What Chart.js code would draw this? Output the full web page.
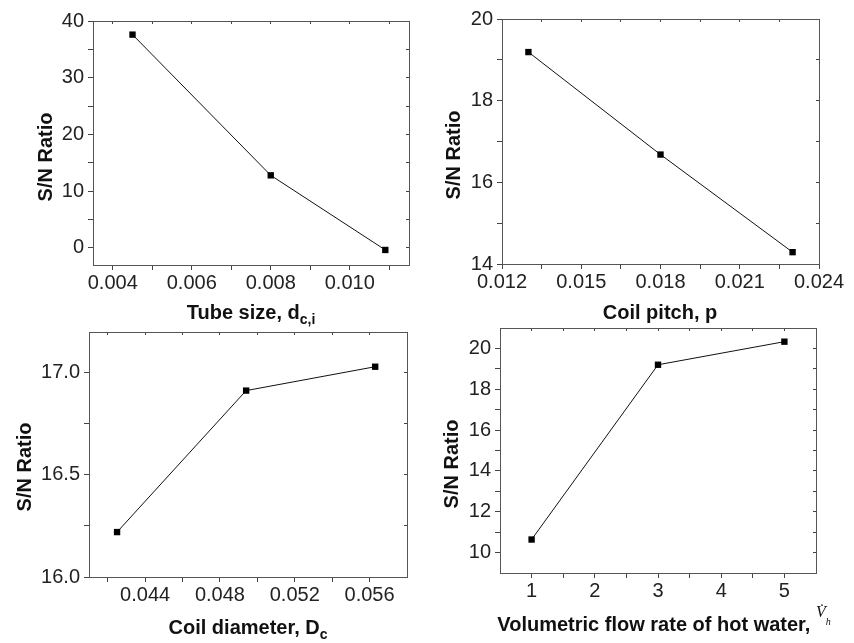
<!DOCTYPE html>
<html>
<head>
<meta charset="utf-8">
<script src="https://cdn.jsdelivr.net/npm/chart.js@4.4.1/dist/chart.umd.min.js"></script>
<style>
  body { margin: 0; background: #fff; }
  #wrap { position: relative; width: 854px; height: 643px; }
  canvas { position: absolute; left: 0; top: 0; }
</style>
</head>
<body>
<div id="wrap">
  <canvas id="tube" width="854" height="643"></canvas>
  <canvas id="pitch" width="854" height="643"></canvas>
  <canvas id="diam" width="854" height="643"></canvas>
  <canvas id="flow" width="854" height="643"></canvas>
</div>
<script>
// tube size panel
const tubeSize = [0.0045, 0.008, 0.0109];
const tubeSN = [37.6, 12.8, -0.35];
const tubeXMajor = [0.004, 0.006, 0.008, 0.010];
const tubeXMinor = [0.005, 0.007, 0.009, 0.011];
const tubeYMajor = [0, 10, 20, 30, 40];
const tubeYMinor = [5, 15, 25, 35];

// coil pitch panel
const coilPitch = [0.013, 0.018, 0.023];
const pitchSN = [19.19, 16.68, 14.29];
const pitchXMajor = [0.012, 0.015, 0.018, 0.021, 0.024];
const pitchXMinor = [0.0135, 0.0165, 0.0195, 0.0225];
const pitchYMajor = [14, 16, 18, 20];
const pitchYMinor = [15, 17, 19];

// coil diameter panel
const coilDiam = [0.0425, 0.0494, 0.0563];
const diamSN = [16.22, 16.913, 17.03];
const diamXMajor = [0.044, 0.048, 0.052, 0.056];
const diamXMinor = [0.042, 0.046, 0.050, 0.054];
const diamYMajor = [16.0, 16.5, 17.0];
const diamYMinor = [16.25, 16.75];

// flow rate panel
const flowRate = [1, 3, 5];
const flowSN = [10.64, 19.2, 20.33];
const flowXMajor = [1, 2, 3, 4, 5];
const flowXMinor = [1.5, 2.5, 3.5, 4.5];
const flowYMajor = [10, 12, 14, 16, 18, 20];
const flowYMinor = [11, 13, 15, 17, 19];

const SANS = "'Liberation Sans', Arial, Helvetica, sans-serif";
const SERIF = "'Liberation Serif', 'Times New Roman', serif";
Chart.defaults.font.family = SANS;
const W = 854, H = 643;

//draws a run of text pieces (for subscripts) centred on cx
function drawParts(ctx, parts, cx, base) {
    let total = 0;
    parts.forEach(p => { ctx.font = p.font; total += ctx.measureText(p.text).width; });
    let x = cx - total / 2;
    ctx.textAlign = 'left';
    ctx.textBaseline = 'alphabetic';
    parts.forEach(p => {
        ctx.font = p.font;
        ctx.fillText(p.text, x, base + (p.dy || 0));
        x += ctx.measureText(p.text).width;
    });
}

const titlePlugin = {
    id: 'titles',
    afterDraw(chart, args, o) {
        const ctx = chart.ctx;
        ctx.save();
        ctx.fillStyle = '#111';
        drawParts(ctx, o.xParts, o.xCenter, o.xBase);
        ctx.translate(o.yBase, o.yCenter);
        ctx.rotate(-Math.PI / 2);
        ctx.font = 'bold 20px ' + SANS;
        ctx.textAlign = 'center';
        ctx.textBaseline = 'alphabetic';
        ctx.fillText('S/N Ratio', 0, 0);
        ctx.restore();
    }
};

function makeAxis(pos, min, max, major, minor, fmt, size, mirror) {
    const horizontal = pos === 'top' || pos === 'bottom';
    return {
        type: 'linear',
        position: pos,
        min: min,
        max: max,
        border: {display: true, color: '#555', width: 1},
        grid: {drawOnChartArea: false, drawTicks: true, tickLength: mirror ? -3 : 5, color: '#444'},
        ticks: {
            display: !mirror,
            autoSkip: false,
            maxRotation: 0,
            color: '#222',
            font: {size: 20},
            padding: horizontal ? 1 : 4,
            callback: v => major.includes(v) ? fmt(v) : ''
        },
        afterBuildTicks: scale => {
            scale.ticks = major.concat(minor).sort((a, b) => a - b).map(v => ({value: v}));
        },
        afterFit: scale => {
            if (horizontal) scale.height = size; else scale.width = size;
        }
    };
}

function makePanel(id, p) {
    new Chart(document.getElementById(id), {
        type: 'line',
        data: {
            datasets: [{
                data: p.xs.map((x, i) => ({x: x, y: p.ys[i]})),
                borderColor: '#111',
                borderWidth: 1,
                pointStyle: 'rect',
                pointRadius: 4.5,
                pointBorderWidth: 0,
                pointBackgroundColor: '#000',
                pointBorderColor: '#000',
                tension: 0
            }]
        },
        options: {
            responsive: false,
            animation: false,
            events: [],
            layout: {padding: {left: 0, top: p.area.t, right: W - p.area.r, bottom: 0}},
            plugins: {
                legend: {display: false},
                tooltip: {enabled: false},
                titles: p.titles
            },
            scales: {
                x: makeAxis('bottom', p.xMin, p.xMax, p.xMajor, p.xMinor, p.xFmt, H - p.area.b, false),
                y: makeAxis('left', p.yMin, p.yMax, p.yMajor, p.yMinor, p.yFmt, p.area.l, false),
                x2: makeAxis('top', p.xMin, p.xMax, p.xMajor, p.xMinor, p.xFmt, 0, true),
                y2: makeAxis('right', p.yMin, p.yMax, p.yMajor, p.yMinor, p.yFmt, 0, true)
            }
        },
        plugins: [titlePlugin]
    });
}

const BOLD = 'bold 20px ' + SANS;
const SUB = 'bold 14px ' + SANS;

makePanel('tube', {
    xs: tubeSize, ys: tubeSN,
    area: {l: 93, t: 21, r: 409, b: 265},
    xMin: 0.0035, xMax: 0.0115, xMajor: tubeXMajor, xMinor: tubeXMinor, xFmt: v => v.toFixed(3),
    yMin: -3, yMax: 40, yMajor: tubeYMajor, yMinor: tubeYMinor, yFmt: v => String(v),
    titles: {
        xParts: [{text: 'Tube size, d', font: BOLD}, {text: 'c,i', font: SUB, dy: 5}],
        xCenter: 251, xBase: 319, yBase: 52, yCenter: 157
    }
});

makePanel('pitch', {
    xs: coilPitch, ys: pitchSN,
    area: {l: 502, t: 19, r: 819, b: 264},
    xMin: 0.012, xMax: 0.024, xMajor: pitchXMajor, xMinor: pitchXMinor, xFmt: v => v.toFixed(3),
    yMin: 14, yMax: 20, yMajor: pitchYMajor, yMinor: pitchYMinor, yFmt: v => String(v),
    titles: {
        xParts: [{text: 'Coil pitch, p', font: BOLD}],
        xCenter: 660, xBase: 319, yBase: 460, yCenter: 155
    }
});

makePanel('diam', {
    xs: coilDiam, ys: diamSN,
    area: {l: 89, t: 332, r: 407, b: 577},
    xMin: 0.041, xMax: 0.058, xMajor: diamXMajor, xMinor: diamXMinor, xFmt: v => v.toFixed(3),
    yMin: 16, yMax: 17.2, yMajor: diamYMajor, yMinor: diamYMinor, yFmt: v => v.toFixed(1),
    titles: {
        xParts: [{text: 'Coil diameter, D', font: BOLD}, {text: 'c', font: SUB, dy: 5}],
        xCenter: 248, xBase: 634, yBase: 31, yCenter: 467
    }
});

makePanel('flow', {
    xs: flowRate, ys: flowSN,
    area: {l: 500, t: 328, r: 816, b: 573},
    xMin: 0.5, xMax: 5.5, xMajor: flowXMajor, xMinor: flowXMinor, xFmt: v => String(v),
    yMin: 9, yMax: 21, yMajor: flowYMajor, yMinor: flowYMinor, yFmt: v => String(v),
    titles: {
        xParts: [
            {text: 'Volumetric flow rate of hot water, ', font: BOLD},
            {text: 'V\u0307', font: 'italic 16px ' + SERIF, dy: -14},
            {text: 'h', font: 'italic 10px ' + SERIF, dy: -6}
        ],
        xCenter: 664, xBase: 631, yBase: 458, yCenter: 464
    }
});
</script>
</body>
</html>
